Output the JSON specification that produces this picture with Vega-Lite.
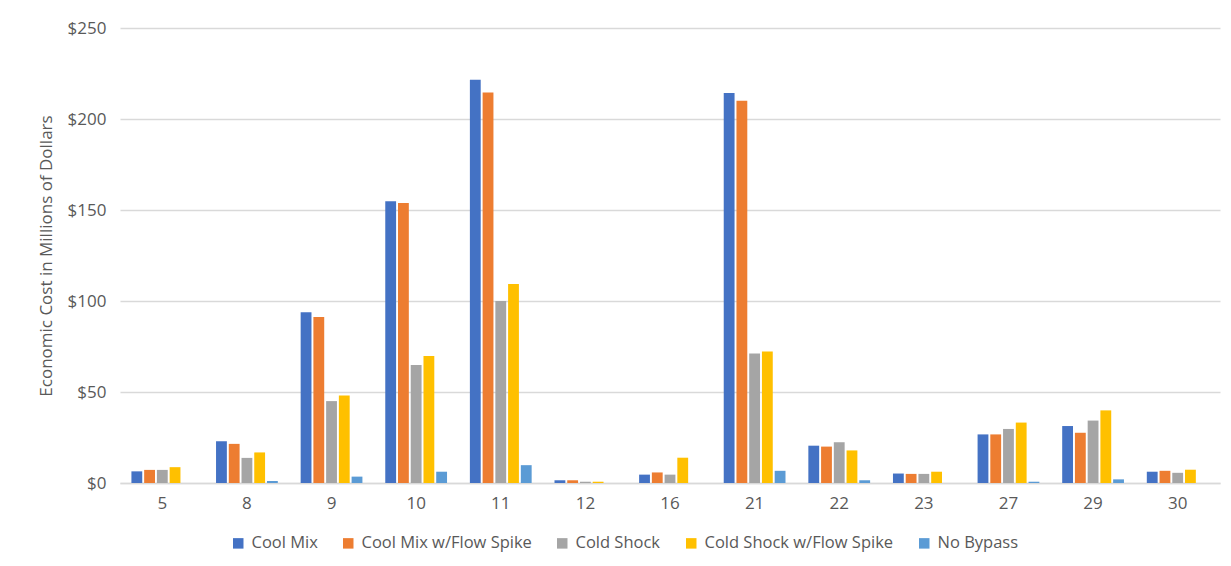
{
  "$schema": "https://vega.github.io/schema/vega-lite/v6.json",
  "autosize": {"type": "none"},
  "width": 1100,
  "height": 455,
  "padding": {"left": 120, "top": 28, "right": 11, "bottom": 83},
  "background": "white",
  "config": {
    "view": {"stroke": null},
    "font": "Open Sans",
    "axis": {"labelFont": "Open Sans", "titleFont": "Open Sans", "labelColor": "#595959", "titleColor": "#595959"},
    "legend": {"labelFont": "Open Sans", "labelColor": "#595959"}
  },
  "data": {
    "values": [
      {"c": "5", "s": "Cool Mix", "v": 6.4},
      {"c": "5", "s": "Cool Mix w/Flow Spike", "v": 7.2},
      {"c": "5", "s": "Cold Shock", "v": 7.2},
      {"c": "5", "s": "Cold Shock w/Flow Spike", "v": 8.7},
      {"c": "5", "s": "No Bypass", "v": 0},
      {"c": "8", "s": "Cool Mix", "v": 22.9},
      {"c": "8", "s": "Cool Mix w/Flow Spike", "v": 21.5},
      {"c": "8", "s": "Cold Shock", "v": 13.8},
      {"c": "8", "s": "Cold Shock w/Flow Spike", "v": 16.8},
      {"c": "8", "s": "No Bypass", "v": 1.1},
      {"c": "9", "s": "Cool Mix", "v": 93.8},
      {"c": "9", "s": "Cool Mix w/Flow Spike", "v": 91.2},
      {"c": "9", "s": "Cold Shock", "v": 45},
      {"c": "9", "s": "Cold Shock w/Flow Spike", "v": 48.1},
      {"c": "9", "s": "No Bypass", "v": 3.5},
      {"c": "10", "s": "Cool Mix", "v": 154.8},
      {"c": "10", "s": "Cool Mix w/Flow Spike", "v": 153.8},
      {"c": "10", "s": "Cold Shock", "v": 64.9},
      {"c": "10", "s": "Cold Shock w/Flow Spike", "v": 69.8},
      {"c": "10", "s": "No Bypass", "v": 6.2},
      {"c": "11", "s": "Cool Mix", "v": 221.6},
      {"c": "11", "s": "Cool Mix w/Flow Spike", "v": 214.5},
      {"c": "11", "s": "Cold Shock", "v": 100},
      {"c": "11", "s": "Cold Shock w/Flow Spike", "v": 109.3},
      {"c": "11", "s": "No Bypass", "v": 9.8},
      {"c": "12", "s": "Cool Mix", "v": 1.5},
      {"c": "12", "s": "Cool Mix w/Flow Spike", "v": 1.5},
      {"c": "12", "s": "Cold Shock", "v": 0.7},
      {"c": "12", "s": "Cold Shock w/Flow Spike", "v": 0.7},
      {"c": "12", "s": "No Bypass", "v": 0},
      {"c": "16", "s": "Cool Mix", "v": 4.6},
      {"c": "16", "s": "Cool Mix w/Flow Spike", "v": 5.8},
      {"c": "16", "s": "Cold Shock", "v": 4.6},
      {"c": "16", "s": "Cold Shock w/Flow Spike", "v": 13.9},
      {"c": "16", "s": "No Bypass", "v": 0},
      {"c": "21", "s": "Cool Mix", "v": 214.3},
      {"c": "21", "s": "Cool Mix w/Flow Spike", "v": 210},
      {"c": "21", "s": "Cold Shock", "v": 71.2},
      {"c": "21", "s": "Cold Shock w/Flow Spike", "v": 72.3},
      {"c": "21", "s": "No Bypass", "v": 6.7},
      {"c": "22", "s": "Cool Mix", "v": 20.5},
      {"c": "22", "s": "Cool Mix w/Flow Spike", "v": 20},
      {"c": "22", "s": "Cold Shock", "v": 22.4},
      {"c": "22", "s": "Cold Shock w/Flow Spike", "v": 17.9},
      {"c": "22", "s": "No Bypass", "v": 1.5},
      {"c": "23", "s": "Cool Mix", "v": 5.2},
      {"c": "23", "s": "Cool Mix w/Flow Spike", "v": 5},
      {"c": "23", "s": "Cold Shock", "v": 5},
      {"c": "23", "s": "Cold Shock w/Flow Spike", "v": 6.2},
      {"c": "23", "s": "No Bypass", "v": 0},
      {"c": "27", "s": "Cool Mix", "v": 26.7},
      {"c": "27", "s": "Cool Mix w/Flow Spike", "v": 26.7},
      {"c": "27", "s": "Cold Shock", "v": 29.7},
      {"c": "27", "s": "Cold Shock w/Flow Spike", "v": 33.2},
      {"c": "27", "s": "No Bypass", "v": 0.7},
      {"c": "29", "s": "Cool Mix", "v": 31.3},
      {"c": "29", "s": "Cool Mix w/Flow Spike", "v": 27.6},
      {"c": "29", "s": "Cold Shock", "v": 34.3},
      {"c": "29", "s": "Cold Shock w/Flow Spike", "v": 39.9},
      {"c": "29", "s": "No Bypass", "v": 2},
      {"c": "30", "s": "Cool Mix", "v": 6.2},
      {"c": "30", "s": "Cool Mix w/Flow Spike", "v": 6.7},
      {"c": "30", "s": "Cold Shock", "v": 5.6},
      {"c": "30", "s": "Cold Shock w/Flow Spike", "v": 7.3},
      {"c": "30", "s": "No Bypass", "v": 0}
    ]
  },
  "mark": {"type": "bar"},
  "encoding": {
    "x": {
      "field": "c", "type": "nominal",
      "sort": ["5","8","9","10","11","12","16","21","22","23","27","29","30"],
      "scale": {"paddingInner": 0.27, "paddingOuter": 0.135},
      "axis": {"title": null, "labelAngle": 0, "labelFontSize": 17, "labelPadding": 12, "ticks": false, "domainColor": "#D9D9D9", "domainWidth": 1.5}
    },
    "xOffset": {
      "field": "s", "type": "nominal",
      "sort": ["Cool Mix","Cool Mix w/Flow Spike","Cold Shock","Cold Shock w/Flow Spike","No Bypass"],
      "scale": {"paddingInner": 0.15}
    },
    "y": {
      "field": "v", "type": "quantitative",
      "scale": {"domain": [0, 250]},
      "axis": {"title": "Economic Cost in Millions of Dollars", "titleFontSize": 17, "titleFontWeight": "normal", "titlePadding": 12, "values": [0,50,100,150,200,250], "format": "$.0f", "labelFontSize": 17, "labelPadding": 14, "ticks": false, "domain": false, "gridColor": "#D9D9D9", "gridWidth": 1.5}
    },
    "color": {
      "field": "s", "type": "nominal",
      "sort": ["Cool Mix","Cool Mix w/Flow Spike","Cold Shock","Cold Shock w/Flow Spike","No Bypass"],
      "scale": {"domain": ["Cool Mix","Cool Mix w/Flow Spike","Cold Shock","Cold Shock w/Flow Spike","No Bypass"], "range": ["#4472C4","#ED7D31","#A5A5A5","#FFC000","#5B9BD5"]},
      "legend": {"title": null, "orient": "none", "direction": "horizontal", "legendX": 110, "legendY": 507, "symbolType": "square", "symbolSize": 110, "symbolStrokeWidth": 0, "labelFontSize": 16.5, "labelLimit": 0, "labelOffset": 5, "columnPadding": 22}
    }
  }
}
